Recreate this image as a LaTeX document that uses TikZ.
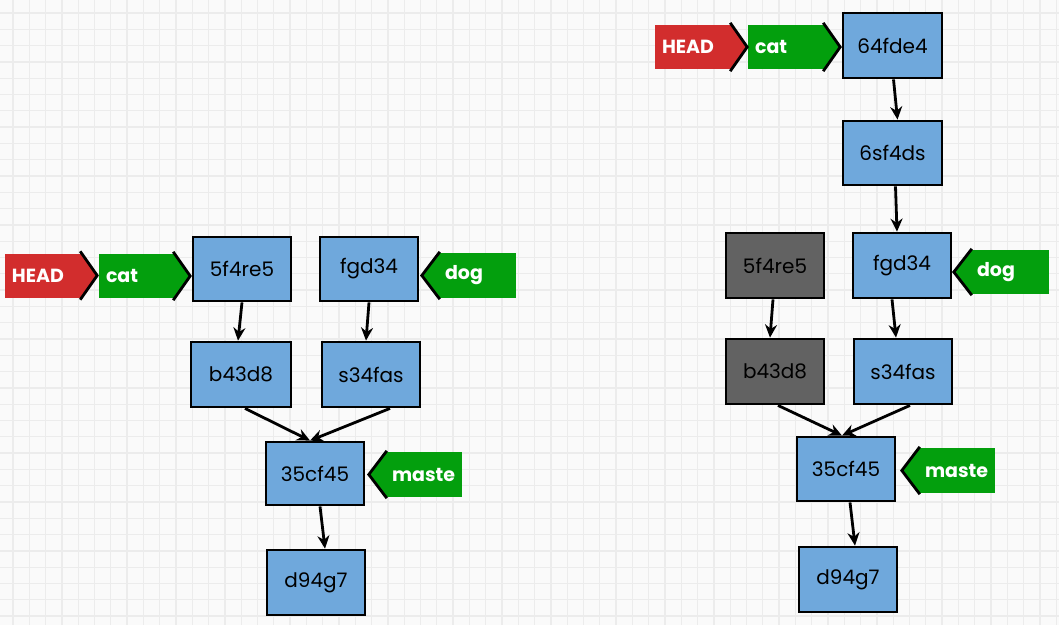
\documentclass[tikz,border=0pt]{standalone}
\usepackage{fontspec}
\setmainfont{Poppins}
\usetikzlibrary{arrows.meta}
\definecolor{paper}{HTML}{FAFAFA}
\definecolor{gridc}{HTML}{ECECEC}
\definecolor{boxblue}{HTML}{6FA8DC}
\definecolor{boxgray}{HTML}{626262}
\definecolor{tagred}{HTML}{D22D2D}
\definecolor{taggreen}{HTML}{039F0D}
\tikzset{
  commit/.style={rectangle, draw=black, line width=2.8pt, fill=boxblue,
    minimum width=98pt, minimum height=64pt, inner sep=0pt,
    font=\fontsize{20}{22}\selectfont, text=black},
  oldcommit/.style={commit, fill=boxgray},
  tag/.style={rectangle, inner xsep=7pt, inner ysep=0pt, minimum height=44pt,
    text width=63pt, align=left, text=white, font=\fontsize{19}{21}\selectfont\bfseries},
  headtag/.style={tag, fill=tagred},
  branchtag/.style={tag, fill=taggreen},
  chev/.style={draw=black, line width=2.8pt, line join=miter},
  link/.style={draw=black, line width=2.8pt, -{Stealth[length=13pt,width=12pt]}}
}
\newcommand{\tagright}[2]{%
  \fill[#2] (#1.north east) -- ([xshift=15pt]#1.east) -- (#1.south east) -- cycle;
  \draw[chev] ([xshift=-2pt,yshift=2pt]#1.north east) -- ([xshift=15pt]#1.east) -- ([xshift=-2pt,yshift=-2pt]#1.south east);}
\newcommand{\tagleft}[2]{%
  \fill[#2] (#1.north west) -- ([xshift=-16pt]#1.west) -- (#1.south west) -- cycle;
  \draw[chev] ([xshift=2pt,yshift=1pt]#1.north west) -- ([xshift=-16pt]#1.west) -- ([xshift=2pt,yshift=-1pt]#1.south west);}
\begin{document}
\begin{tikzpicture}[x=1pt,y=-1pt]
  % paper and grid
  \fill[paper] (0,0) rectangle (1059,625);
  \useasboundingbox (0,0) rectangle (1059,625);
  \foreach \i in {0,...,64} {\draw[gridc, line width=1.3pt] (13+\i*16.3,0) -- (13+\i*16.3,625);}
  \foreach \j in {0,...,38} {\draw[gridc, line width=1.3pt] (0,13+\j*16.3) -- (1059,13+\j*16.3);}

  % ---- left history ----
  \node[commit] (la) at (242,269) {5f4re5};
  \node[commit] (lb) at (369,269) {fgd34};
  \node[commit, minimum width=100pt, minimum height=65pt] (lc) at (241,374.5) {b43d8};
  \node[commit, minimum height=65pt] (ld) at (371,374.5) {s34fas};
  \node[commit, minimum height=63pt] (le) at (315,473.5) {35cf45};
  \node[commit, minimum height=65pt] (lf) at (316,582.5) {d94g7};

  \node[headtag, text width=63pt] (lhead) at (43.5,275.5) {HEAD};
  \node[branchtag, text width=62pt] (lcat) at (137,276) {cat};
  \node[branchtag, text width=64pt, minimum height=45pt] (ldog) at (477,275.5) {dog};
  \node[branchtag, text width=63pt, minimum height=45pt] (lmaster) at (423.5,474.5) {maste};
  \tagright{lhead}{tagred}
  \tagright{lcat}{taggreen}
  \tagleft{ldog}{taggreen}
  \tagleft{lmaster}{taggreen}

  \draw[link] (la.south) -- ([xshift=-3pt]lc.north);
  \draw[link] (lb.south) -- ([xshift=-5pt]ld.north);
  \draw[link] ([xshift=4pt]lc.south) -- ([xshift=-5pt]le.north);
  \draw[link] ([xshift=19pt]ld.south) -- ([xshift=-5pt]le.north);
  \draw[link] ([xshift=5pt]le.south) -- ([xshift=9pt]lf.north);

  % ---- right history ----
  \node[commit, minimum width=99pt, minimum height=65pt] (ra) at (892.5,45.5) {64fde4};
  \node[commit, minimum width=99pt] (rb) at (892.5,153) {6sf4ds};
  \node[oldcommit, minimum height=65pt] (rc) at (775,265.5) {5f4re5};
  \node[commit, minimum height=65pt] (rd) at (902,265.5) {fgd34};
  \node[oldcommit, minimum height=65pt] (re) at (775,371.5) {b43d8};
  \node[commit, minimum height=65pt] (rf) at (903,371.5) {s34fas};
  \node[commit] (rg) at (846,469) {35cf45};
  \node[commit, minimum height=65pt] (rh) at (848,579.5) {d94g7};

  \node[headtag] (rhead) at (693.5,47) {HEAD};
  \node[branchtag] (rcat) at (786.5,47) {cat};
  \node[branchtag, text width=65pt] (rdog) at (1009.5,272) {dog};
  \node[branchtag, minimum height=45pt] (rmaster) at (956.5,470.5) {maste};
  \tagright{rhead}{tagred}
  \tagright{rcat}{taggreen}
  \tagleft{rdog}{taggreen}
  \tagleft{rmaster}{taggreen}

  \draw[link] ([xshift=1pt]ra.south) -- ([xshift=5pt]rb.north);
  \draw[link] ([xshift=3pt]rb.south) -- ([xshift=-5pt]rd.north);
  \draw[link] ([xshift=-2pt]rc.south) -- ([xshift=-5pt]re.north);
  \draw[link] ([xshift=-10pt]rd.south) -- ([xshift=-7pt]rf.north);
  \draw[link] ([xshift=3pt]re.south) -- ([xshift=-4pt]rg.north);
  \draw[link] ([xshift=7pt]rf.south) -- ([xshift=-4pt]rg.north);
  \draw[link] ([xshift=4pt]rg.south) -- ([xshift=7pt]rh.north);
\end{tikzpicture}
\end{document}
